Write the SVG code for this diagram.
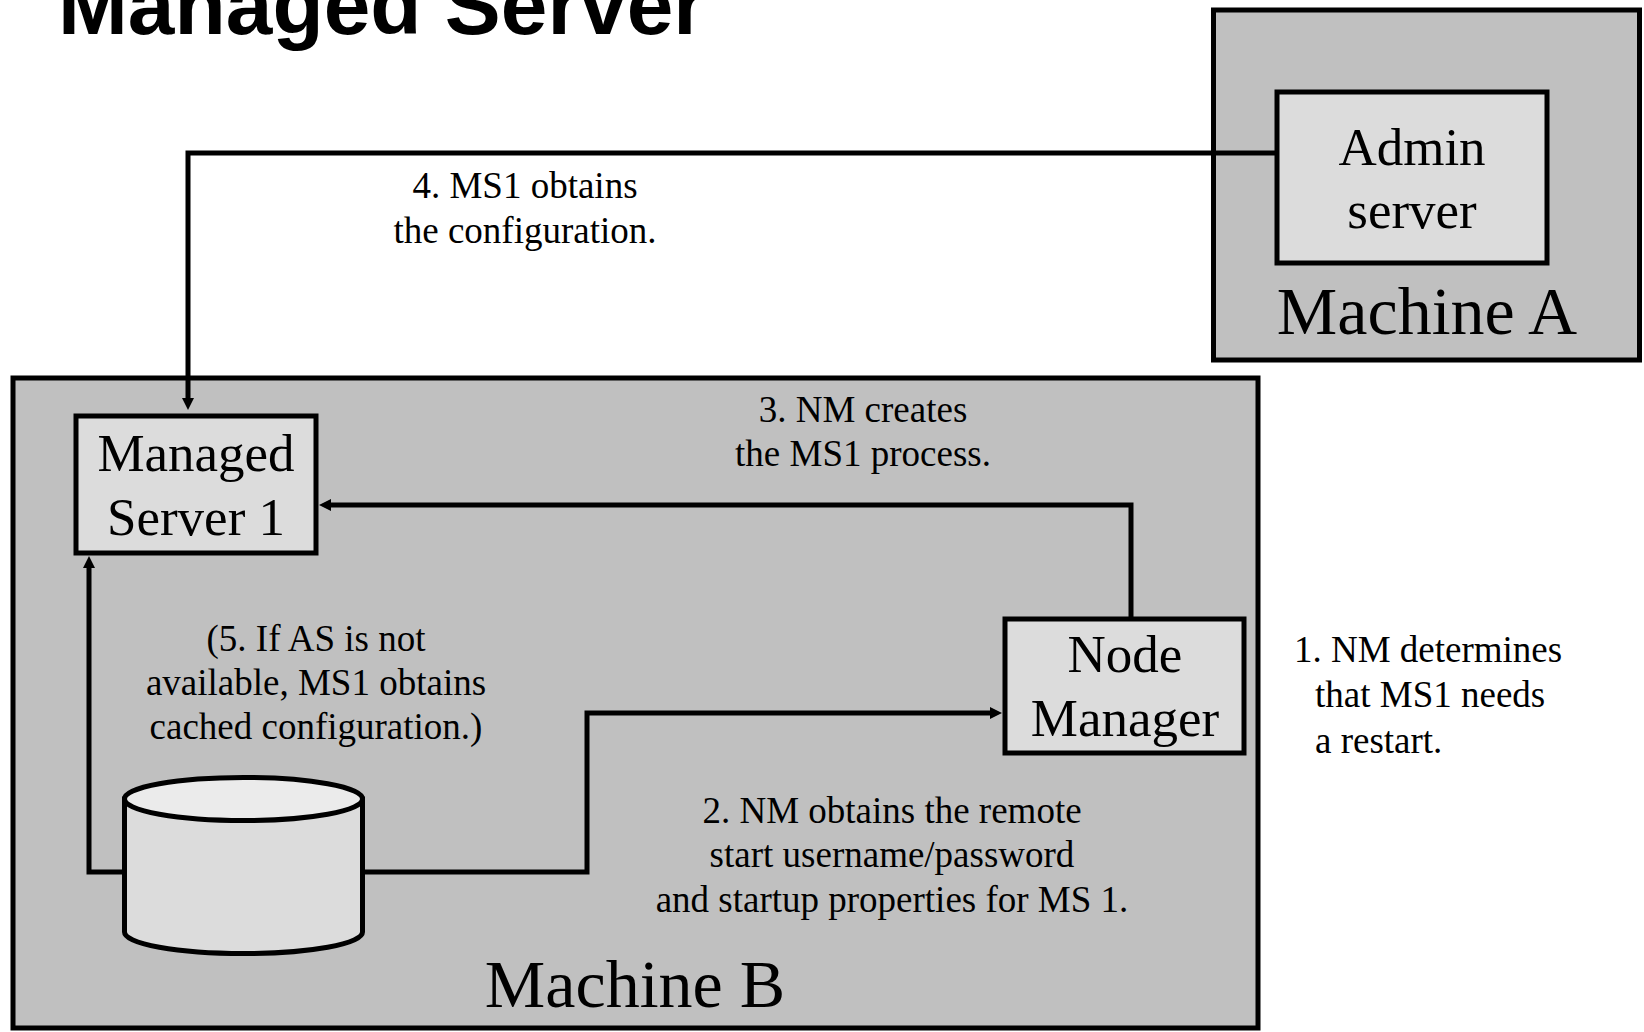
<svg xmlns="http://www.w3.org/2000/svg" width="1644" height="1032" viewBox="0 0 1644 1032">
<style>
.machine{fill:#c0c0c0;stroke:#000;stroke-width:5}
.box{fill:#dcdcdc;stroke:#000;stroke-width:5}
.big{font-family:"Liberation Serif","Times New Roman",serif;font-size:53px;fill:#000;text-anchor:middle}
.mach{font-family:"Liberation Serif","Times New Roman",serif;font-size:68px;fill:#000;text-anchor:middle}
.lbl{font-family:"Liberation Serif","Times New Roman",serif;font-size:37px;fill:#000;text-anchor:middle}
.lbll{font-family:"Liberation Serif","Times New Roman",serif;font-size:37px;fill:#000}
.title{font-family:"Liberation Sans",Arial,sans-serif;font-size:84px;font-weight:bold;fill:#000}
.conn{fill:none;stroke:#000;stroke-width:5;stroke-linejoin:miter;marker-end:url(#arr)}
</style>
<defs>
<marker id="arr" viewBox="0 -6 12 12" refX="2" refY="0" markerWidth="12" markerHeight="12" markerUnits="userSpaceOnUse" orient="auto">
<path d="M0,-6 L12,0 L0,6 z" fill="#000"/>
</marker>
</defs>
<rect width="1644" height="1032" fill="#fff"/>
<text class="title" x="58" y="34" textLength="648" lengthAdjust="spacingAndGlyphs">Managed Server</text>

<g id="machineA">
<rect class="machine" x="1213.5" y="10" width="426" height="350"/>
<text class="mach" x="1427" y="334">Machine A</text>
</g>
<g id="machineB">
<rect class="machine" x="13" y="378" width="1245" height="650"/>
<text class="mach" x="635" y="1007">Machine B</text>
</g>

<g id="connectors">
<path class="conn" d="M1277,153 H188 V400"/>
<path class="conn" d="M1131,619 V505 H329"/>
<path class="conn" d="M364,872 H587 V713 H992"/>
<path class="conn" d="M124,872 H89 V566"/>
</g>

<g id="adminServer">
<rect class="box" x="1277" y="92" width="270" height="171"/>
<text class="big" x="1412" y="165">Admin</text>
<text class="big" x="1412" y="228">server</text>
</g>
<g id="managedServer1">
<rect class="box" x="76" y="416" width="240" height="137"/>
<text class="big" x="196" y="471">Managed</text>
<text class="big" x="196" y="535">Server 1</text>
</g>
<g id="nodeManager">
<rect class="box" x="1005" y="619" width="239" height="134"/>
<text class="big" x="1125" y="672">Node</text>
<text class="big" x="1125" y="736">Manager</text>
</g>
<g id="datastore">
<path d="M124.5,799 L124.5,932 A119,21.5 0 0 0 362.5,932 L362.5,799 Z" fill="#dcdcdc" stroke="#000" stroke-width="5"/>
<ellipse cx="243.5" cy="799" rx="119" ry="21.5" fill="#ebebeb" stroke="#000" stroke-width="5"/>
</g>

<g id="labels">
<text class="lbl" x="525" y="198">4. MS1 obtains</text>
<text class="lbl" x="525" y="243">the configuration.</text>
<text class="lbl" x="863" y="422">3. NM creates</text>
<text class="lbl" x="863" y="466">the MS1 process.</text>
<text class="lbl" x="316" y="651">(5. If AS is not</text>
<text class="lbl" x="316" y="695">available, MS1 obtains</text>
<text class="lbl" x="316" y="739">cached configuration.)</text>
<text class="lbl" x="892" y="823">2. NM obtains the remote</text>
<text class="lbl" x="892" y="867">start username/password</text>
<text class="lbl" x="892" y="912">and startup properties for MS 1.</text>
<text class="lbll" x="1294" y="662">1. NM determines</text>
<text class="lbll" x="1315" y="707">that MS1 needs</text>
<text class="lbll" x="1315" y="753">a restart.</text>
</g>
</svg>
